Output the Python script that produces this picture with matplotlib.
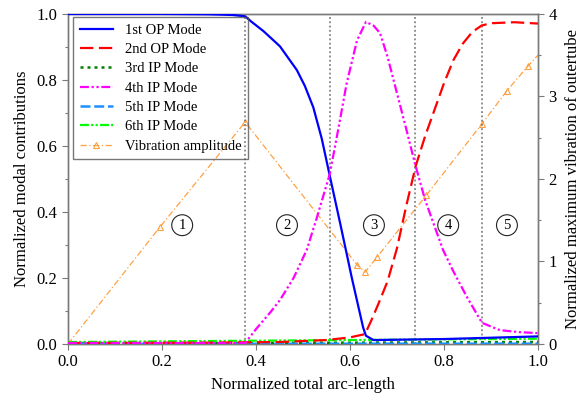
import matplotlib.pyplot as plt
from matplotlib.ticker import MultipleLocator

plt.rcParams["font.family"] = ["Liberation Serif", "DejaVu Serif"]
plt.rcParams["mathtext.fontset"] = "stix"

# modal contributions along the normalized arc-length
op1_x = [0.0, 0.2, 0.3, 0.35, 0.377, 0.39, 0.416, 0.451, 0.487, 0.504, 0.522,
         0.54, 0.557, 0.58, 0.604, 0.628, 0.634, 0.65, 0.7, 0.8, 0.9, 1.0]
op1_y = [1.0, 1.0, 0.999, 0.997, 0.993, 0.977, 0.948, 0.902, 0.83, 0.782, 0.717,
         0.622, 0.51, 0.36, 0.20, 0.05, 0.025, 0.012, 0.013, 0.015, 0.019, 0.023]

op2_x = [0.0, 0.3, 0.45, 0.55, 0.6, 0.632, 0.645, 0.66, 0.68, 0.70, 0.72, 0.74,
         0.76, 0.78, 0.80, 0.82, 0.84, 0.86, 0.88, 0.90, 0.95, 1.0]
op2_y = [0.003, 0.004, 0.006, 0.012, 0.02, 0.03, 0.07, 0.12, 0.19, 0.29, 0.42, 0.54,
         0.63, 0.71, 0.79, 0.86, 0.91, 0.945, 0.965, 0.972, 0.975, 0.971]

ip3_x = [0.0, 0.3, 0.6, 0.8, 1.0]
ip3_y = [0.003, 0.003, 0.004, 0.005, 0.006]

ip4_x = [0.0, 0.377, 0.40, 0.43, 0.451, 0.48, 0.508, 0.53, 0.557, 0.575, 0.593,
         0.615, 0.634, 0.65, 0.664, 0.68, 0.70, 0.72, 0.738, 0.76, 0.798, 0.82,
         0.849, 0.881, 0.919, 0.96, 1.0]
ip4_y = [0.003, 0.003, 0.045, 0.095, 0.133, 0.2, 0.285, 0.385, 0.515, 0.65, 0.79,
         0.92, 0.976, 0.965, 0.942, 0.87, 0.76, 0.65, 0.548, 0.436, 0.285, 0.22,
         0.142, 0.064, 0.042, 0.036, 0.033]

ip5_x = [0.0, 0.5, 1.0]
ip5_y = [0.0005, 0.0008, 0.001]

ip6_x = [0.0, 0.3, 0.6, 0.8, 1.0]
ip6_y = [0.006, 0.009, 0.012, 0.014, 0.016]

# normalized maximum vibration of the outer tube (right axis)
amp_x = [0.0, 0.196, 0.377, 0.615, 0.632, 0.657, 0.762, 0.881, 0.934, 0.979, 1.0]
amp_y = [0.0, 1.42, 2.69, 0.96, 0.87, 1.05, 1.80, 2.67, 3.07, 3.37, 3.50]

# region boundaries and region numbers
bounds = [0.377, 0.557, 0.738, 0.881]
region_x = [0.243, 0.466, 0.651, 0.809, 0.934]
region_labels = ["1", "2", "3", "4", "5"]

SPINE = "#7a7a7a"
FS = 12

fig = plt.figure(figsize=(5.88, 4.03), dpi=100)
ax = fig.add_axes([0.1156, 0.1464, 0.7993, 0.8189])
ax2 = ax.twinx()

for xb in bounds:
    ax.plot([xb, xb], [0, 1], color="#707070", lw=1.1, ls=(0, (1.2, 1.6)), zorder=1)

h1, = ax.plot(op1_x, op1_y, color="#0000ff", lw=1.6, label="1st OP Mode", zorder=4)
h2, = ax.plot(op2_x, op2_y, color="#ff0000", lw=1.6, ls=(0, (6, 2.5)),
              label="2nd OP Mode", zorder=4)
h3, = ax.plot(ip3_x, ip3_y, color="#008000", lw=1.8, ls=(0, (1.2, 1.6)),
              label="3rd IP Mode", zorder=3)
h4, = ax.plot(ip4_x, ip4_y, color="#ff00ff", lw=1.6, ls=(0, (4, 1.2, 1, 1.2, 1, 1.2)),
              label="4th IP Mode", zorder=4)
h5, = ax.plot(ip5_x, ip5_y, color="#1e90ff", lw=1.8, ls=(0, (4, 1.5)),
              label="5th IP Mode", zorder=3)
h6, = ax.plot(ip6_x, ip6_y, color="#00ff00", lw=1.6, ls=(0, (4, 1, 1, 1, 1, 1)),
              label="6th IP Mode", zorder=3)

h7, = ax2.plot(amp_x, amp_y, color="#ffa040", lw=0.9, ls=(0, (5, 2, 1, 2)),
               marker="^", ms=4.5, mfc="none", mec="#ffa040", mew=0.8,
               markevery=list(range(len(amp_x) - 1)), label="Vibration amplitude")

for xr, lab in zip(region_x, region_labels):
    ax.text(xr, 0.36, lab, fontsize=10.5, ha="center", va="center",
            bbox={"boxstyle": "circle,pad=0.27", "facecolor": "white",
                  "edgecolor": "#222222", "lw": 0.8}, zorder=6)

ax.set_xlim(0, 1)
ax.set_ylim(0, 1)
ax2.set_ylim(0, 4)
ax.xaxis.set_major_locator(MultipleLocator(0.2))
ax.yaxis.set_major_locator(MultipleLocator(0.2))
ax.yaxis.set_minor_locator(MultipleLocator(0.1))
ax2.yaxis.set_major_locator(MultipleLocator(1))
ax2.yaxis.set_minor_locator(MultipleLocator(0.5))
ax.xaxis.set_major_formatter(plt.FormatStrFormatter("%.1f"))
ax.yaxis.set_major_formatter(plt.FormatStrFormatter("%.1f"))

for a in (ax, ax2):
    for s in a.spines.values():
        s.set_color(SPINE)
        s.set_linewidth(1.0)
    a.tick_params(which="major", length=4, width=0.8, color=SPINE, labelsize=FS,
                  direction="out")
    a.tick_params(which="minor", length=2.5, width=0.8, color=SPINE, direction="out")

ax.set_xlabel("Normalized total arc-length", fontsize=FS, labelpad=5)
ax.set_ylabel("Normalized modal contributions", fontsize=FS, labelpad=5)
ax2.set_ylabel("Normalized maximum vibration of outertube", fontsize=FS, labelpad=6)

ax.set_zorder(ax2.get_zorder() + 1)
ax.patch.set_visible(False)

leg = ax.legend(handles=[h1, h2, h3, h4, h5, h6, h7], loc="upper left",
                bbox_to_anchor=(0.011, 0.991), borderaxespad=0, fontsize=10.5,
                frameon=True, fancybox=False, handlelength=2.3,
                labelspacing=0.42, handletextpad=0.8, borderpad=0.45)
frame = leg.get_frame()
frame.set_facecolor("none")
frame.set_edgecolor("#555555")
frame.set_linewidth(1.0)
leg.set_zorder(7)

fig.savefig("out.png", dpi=100)
